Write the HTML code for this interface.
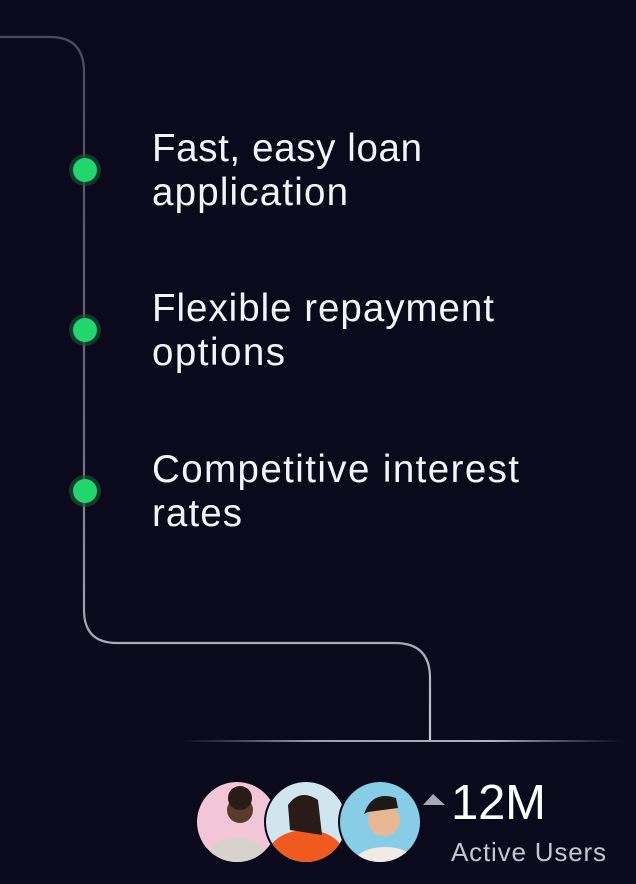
<!DOCTYPE html>
<html><head><meta charset="utf-8"><style>
html,body{margin:0;padding:0;background:#0b0a1c;}
svg{display:block}
text{font-family:"Liberation Sans",sans-serif;}
</style></head><body>
<svg width="636" height="884" viewBox="0 0 636 884">
<defs>
<linearGradient id="lg" x1="0" y1="0" x2="0" y2="741" gradientUnits="userSpaceOnUse">
<stop offset="0" stop-color="#4a4858"/><stop offset="0.6" stop-color="#6e6c7c"/><stop offset="1" stop-color="#c9c7d2"/>
</linearGradient>
<linearGradient id="hl" x1="0" y1="0" x2="1" y2="0">
<stop offset="0" stop-color="#8a8896" stop-opacity="0"/><stop offset="0.3" stop-color="#9e9cab"/><stop offset="0.7" stop-color="#b4b2c0"/><stop offset="1" stop-color="#8a8896" stop-opacity="0"/>
</linearGradient>
<clipPath id="c1"><circle cx="237" cy="822" r="40"/></clipPath>
<clipPath id="c2"><circle cx="306" cy="822" r="40"/></clipPath>
<clipPath id="c3"><circle cx="380" cy="822" r="40"/></clipPath>
</defs>
<path d="M0 37 H50 Q84 37 84 72 V610 Q84 643 117 643 H395 Q430 643 430 678 V741" fill="none" stroke="url(#lg)" stroke-width="2.2"/>
<rect x="180" y="740" width="445" height="2" fill="url(#hl)"/>
<g><circle cx="85" cy="170" r="16" fill="#1a5a3a" opacity="0.6"/><circle cx="85" cy="170" r="12" fill="#22d66e"/></g>
<g><circle cx="85" cy="330" r="16" fill="#1a5a3a" opacity="0.6"/><circle cx="85" cy="330" r="12" fill="#22d66e"/></g>
<g><circle cx="85" cy="491" r="16" fill="#1a5a3a" opacity="0.6"/><circle cx="85" cy="491" r="12" fill="#22d66e"/></g>
<g fill="#f4f4f8" font-size="38.5" lengthAdjust="spacing">
<text><tspan x="152" y="161" textLength="270">Fast, easy loan</tspan><tspan x="152" y="205" textLength="196">application</tspan></text>
<text><tspan x="152" y="321" textLength="342">Flexible repayment</tspan><tspan x="152" y="365" textLength="133">options</tspan></text>
<text><tspan x="152" y="482" textLength="367">Competitive interest</tspan><tspan x="152" y="526" textLength="90">rates</tspan></text>
</g>
<g><circle cx="237" cy="822" r="42" fill="#0b0a1c"/><g clip-path="url(#c1)"><rect x="190" y="780" width="95" height="85" fill="#f2c6d6"/><ellipse cx="237" cy="860" rx="30" ry="22" fill="#d8d2cc"/><circle cx="240" cy="810" r="13" fill="#5a3a2a"/><circle cx="240" cy="798" r="12" fill="#2a1a18"/></g></g>
<g><circle cx="306" cy="822" r="42" fill="#0b0a1c"/><g clip-path="url(#c2)"><rect x="260" y="780" width="95" height="85" fill="#cfe6ee"/><ellipse cx="306" cy="855" rx="38" ry="25" fill="#f05a1e"/><circle cx="304" cy="812" r="13" fill="#c98a6a"/><path d="M288 805 Q300 788 318 800 L322 835 L290 830Z" fill="#2a1a18"/></g></g>
<g><circle cx="380" cy="822" r="42" fill="#0b0a1c"/><g clip-path="url(#c3)"><rect x="335" y="780" width="95" height="85" fill="#88cde6"/><ellipse cx="385" cy="862" rx="30" ry="15" fill="#f0ebe4"/><circle cx="384" cy="820" r="16" fill="#e8b894"/><path d="M364 814 Q372 790 396 798 L398 808 L368 812Z" fill="#1e1816"/></g></g>
<path d="M423 805 L433 794 L445 805Z" fill="#a8a6b4"/>
<text x="451" y="819" font-size="49" fill="#ffffff" textLength="95" lengthAdjust="spacing">12M</text>
<text x="451" y="861" font-size="26" fill="#c6c5cf" textLength="155" lengthAdjust="spacing">Active Users</text>
</svg>
</body></html>
